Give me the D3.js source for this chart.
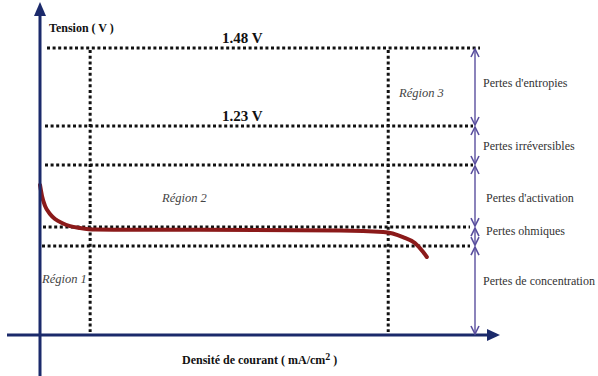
<!DOCTYPE html>
<html><head><meta charset="utf-8">
<script src="https://cdn.jsdelivr.net/npm/d3@7"></script>
<style>html,body{margin:0;padding:0;background:#fff;}svg{display:block;}
.sf{font-family:"Liberation Serif","Times New Roman",Tinos,"DejaVu Serif",serif;}</style>
</head><body>
<script>
// ---- data ----
const currentDensity = [0, 0.43, 1.09, 2.17, 3.26, 4.78, 6.52, 8.7, 11.96, 34.8, 65.2, 74.6, 78.9, 81.5, 83.3, 84.1];
const voltage        = [1.041, 1.006, 0.974, 0.948, 0.932, 0.919, 0.909, 0.903, 0.898, 0.897, 0.895, 0.890, 0.874, 0.855, 0.826, 0.81];
const levels      = [1.48, 1.23, 1.105, 0.906, 0.845];
const levelLabels = ["1.48 V", "1.23 V", "", "", ""];
const lossNames   = ["Pertes d'entropies", "Pertes irréversibles", "Pertes d'activation", "Pertes ohmiques", "Pertes de concentration"];
const lossTop     = [1.48, 1.23, 1.105, 0.906, 0.845];
const lossBottom  = [1.23, 1.105, 0.906, 0.845, 0.56];
const regionBounds = [10.9, 75.7];
const regionNames  = ["Région 1", "Région 2", "Région 3"];
const xTitle = "Densité de courant ( mA/cm";
const yTitle = "Tension ( V )";

const W = 598, H = 376;
const svg = d3.select("body").append("svg").attr("width", W).attr("height", H);
const x = d3.scaleLinear().domain([0, 100]).range([40, 500]);
const y = d3.scaleLinear().domain([0.56, 1.48]).range([335, 48]);

const axisColor = "#1b2a6b";
const arrowColor = "#5a4f9e";

// dotted horizontal levels
const lvlStart = [47, 45, 45, 43, 42];
const lvlEnd   = [480, 473, 473, 470, 470];
svg.append("g").selectAll("line").data(levels).join("line")
  .attr("x1", (d,i) => lvlStart[i]).attr("x2", (d,i) => lvlEnd[i])
  .attr("y1", d => y(d)).attr("y2", d => y(d))
  .attr("stroke", "#111").attr("stroke-width", 3).attr("stroke-dasharray", "3,2.6");

// dotted vertical region boundaries
svg.append("g").selectAll("line").data(regionBounds).join("line")
  .attr("x1", d => x(d)).attr("x2", d => x(d))
  .attr("y1", y(levels[0]) + 2).attr("y2", y(0.56) - 3)
  .attr("stroke", "#111").attr("stroke-width", 3).attr("stroke-dasharray", "3,2.7");

// level labels
svg.append("g").selectAll("text").data(levelLabels).join("text")
  .attr("class", "sf")
  .attr("x", 222).attr("y", (d,i) => y(levels[i]) - 5)
  .attr("font-weight", "bold").attr("font-size", 15)
  .attr("fill", "#111").text(d => d);

// curve
const pts = currentDensity.map((c,i) => [c, voltage[i]]);
svg.append("path").datum(pts)
  .attr("d", d3.line().x(d => x(d[0])).y(d => y(d[1])).curve(d3.curveMonotoneX))
  .attr("fill", "none").attr("stroke", "#8b1a1a").attr("stroke-width", 4).attr("stroke-linecap", "round");

// axes
const ax = svg.append("g");
ax.append("line").attr("x1", 7).attr("x2", 490).attr("y1", y(0.56)).attr("y2", y(0.56))
  .attr("stroke", axisColor).attr("stroke-width", 3);
ax.append("path").attr("d", `M500,${y(0.56)} L487,${y(0.56)-6} L487,${y(0.56)+6} Z`).attr("fill", axisColor);
ax.append("line").attr("x1", x(0)).attr("x2", x(0)).attr("y1", 376).attr("y2", 12)
  .attr("stroke", axisColor).attr("stroke-width", 3);
ax.append("path").attr("d", `M${x(0)},2 L${x(0)-6},16 L${x(0)+6},16 Z`).attr("fill", axisColor);

// axis titles
svg.append("text").attr("class", "sf").attr("x", 49).attr("y", 32)
  .attr("font-weight", "bold").attr("font-size", 12).attr("fill", "#111")
  .text(yTitle);
const xt = svg.append("text").attr("class", "sf").attr("x", 182).attr("y", 364)
  .attr("font-weight", "bold").attr("font-size", 12).attr("fill", "#111");
xt.append("tspan").text(xTitle);
xt.append("tspan").attr("dy", -4).attr("font-size", 10).text("2");
xt.append("tspan").attr("dy", 4).text(" )");

// region labels
const regionPos = [[42, 283], [162, 202], [399, 97]];
svg.append("g").selectAll("text").data(regionNames).join("text")
  .attr("class", "sf")
  .attr("x", (d,i) => regionPos[i][0]).attr("y", (d,i) => regionPos[i][1])
  .attr("font-style", "italic").attr("font-size", 12.5).attr("fill", "#444")
  .text(d => d);

// loss double-arrows
const ax2 = 475;
const g = svg.append("g");
lossNames.forEach((name, i) => {
  const y1 = y(lossTop[i]) + 1, y2 = y(lossBottom[i]) - 1;
  g.append("line").attr("x1", ax2).attr("x2", ax2).attr("y1", y1).attr("y2", y2)
    .attr("stroke", arrowColor).attr("stroke-width", 1.4);
  g.append("polyline").attr("points", `${ax2-4},${y1+8} ${ax2},${y1} ${ax2+4},${y1+8}`)
    .attr("fill", "none").attr("stroke", arrowColor).attr("stroke-width", 1.6);
  g.append("polyline").attr("points", `${ax2-4},${y2-8} ${ax2},${y2} ${ax2+4},${y2-8}`)
    .attr("fill", "none").attr("stroke", arrowColor).attr("stroke-width", 1.6);
});
const lossLabelPos = [[483, 87], [483, 150], [486, 202], [486, 235], [483, 285]];
svg.append("g").selectAll("text").data(lossNames).join("text")
  .attr("class", "sf")
  .attr("x", (d,i) => lossLabelPos[i][0]).attr("y", (d,i) => lossLabelPos[i][1])
  .attr("font-size", 12).attr("fill", "#333")
  .text(d => d);
</script>
</body></html>
